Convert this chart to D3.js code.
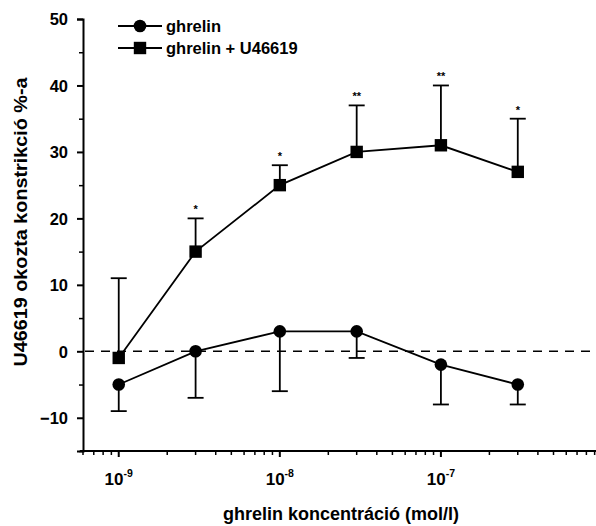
<!DOCTYPE html>
<html>
<head>
<meta charset="utf-8">
<script src="https://cdn.jsdelivr.net/npm/d3@7"></script>
<style>
  body { margin: 0; background: #fff; }
  svg { display: block; font-family: "Liberation Sans", Arial, sans-serif; font-weight: bold; }
</style>
</head>
<body>
<svg id="chart" width="596" height="526"></svg>
<script>
// concentrations (mol/l)
const concentrations = [1e-9, 3e-9, 1e-8, 3e-8, 1e-7, 3e-7];

// ghrelin alone: mean and lower error limit
const ghrelinMean = [-5, 0, 3, 3, -2, -5];
const ghrelinLow = [-9, -7, -6, -1, -8, -8];

// ghrelin + U46619: mean and upper error limit
const comboMean = [-1, 15, 25, 30, 31, 27];
const comboHigh = [11, 20, 28, 37, 40, 35];
const comboStars = ["", "*", "*", "**", "**", "*"];

const yMajor = [-10, 0, 10, 20, 30, 40, 50];
const yMinor = [-15, -5, 5, 15, 25, 35, 45];
const xMajorExp = [-9, -8, -7];

const svg = d3.select("#chart");

const x = d3.scaleLog().domain([6e-10, 1e-6]).range([83, 602]);
const y = d3.scaleLinear().domain([-15, 50]).range([451, 19]);

// y axis
const yAxis = svg.append("g").attr("transform", `translate(${x.range()[0]},0)`);
yAxis.call(d3.axisLeft(y).tickValues(yMajor).tickSize(6).tickPadding(9).tickFormat(d3.format("d")));
yAxis.select(".domain").attr("stroke-width", 2);
yAxis.selectAll(".tick line").attr("stroke-width", 2);
yAxis.selectAll(".tick text")
    .attr("font-size", 16.5).attr("font-family", "Liberation Sans, Arial").attr("font-weight", "bold")
    .attr("fill", "#000").attr("dy", "0.36em");
svg.append("g").attr("transform", `translate(${x.range()[0]},0)`)
    .call(d3.axisLeft(y).tickValues(yMinor).tickSize(4).tickFormat(""))
    .call((g) => g.select(".domain").remove())
    .selectAll(".tick line").attr("stroke-width", 1.5);

// x axis (log, minor ticks at 2..9 of each decade)
const xTicks = x.ticks().filter((v) => v >= x.domain()[0] && v <= x.domain()[1]);
const isMajor = (v) => Math.abs(Math.log10(v) - Math.round(Math.log10(v))) < 1e-6;
const xAxis = svg.append("g").attr("transform", `translate(0,${y.range()[0]})`);
xAxis.append("line").attr("x1", 80).attr("x2", 602).attr("stroke", "#000").attr("stroke-width", 2);
xAxis.selectAll("line.tick").data(xTicks).join("line")
    .attr("class", "tick")
    .attr("x1", (d) => x(d)).attr("x2", (d) => x(d))
    .attr("y1", 0).attr("y2", (d) => (isMajor(d) ? 6 : 4))
    .attr("stroke", "#000").attr("stroke-width", (d) => (isMajor(d) ? 2 : 1.5));
const xLabels = xAxis.selectAll("text.lab").data(xMajorExp).join("text")
    .attr("class", "lab")
    .attr("x", (d) => x(Math.pow(10, d)))
    .attr("y", 34)
    .attr("text-anchor", "middle")
    .attr("font-size", 17);
xLabels.append("tspan").text("10");
xLabels.append("tspan").attr("dy", -8).attr("font-size", 10.5).text((d) => d);

// zero reference line
svg.append("line")
    .attr("x1", x.range()[0] + 2).attr("x2", 596)
    .attr("y1", y(0)).attr("y2", y(0))
    .attr("stroke", "#000").attr("stroke-width", 1.6)
    .attr("stroke-dasharray", "9,7");

// axis titles
svg.append("text")
    .attr("transform", "translate(27,222) rotate(-90)")
    .attr("text-anchor", "middle")
    .attr("font-size", 18)
    .attr("textLength", 289)
    .attr("lengthAdjust", "spacingAndGlyphs")
    .text("U46619 okozta konstrikció %-a");
svg.append("text")
    .attr("x", 341).attr("y", 520)
    .attr("text-anchor", "middle")
    .attr("font-size", 18)
    .text("ghrelin koncentráció (mol/l)");

const line = d3.line().x((d) => x(d[0])).y((d) => y(d[1]));
const cap = 8;
const lw = 1.8;

// ghrelin series
const ghrelin = concentrations.map((c, i) => [c, ghrelinMean[i], ghrelinLow[i]]);
svg.append("path").datum(ghrelin).attr("d", line).attr("fill", "none").attr("stroke", "#000").attr("stroke-width", lw);
const gErr = svg.append("g").selectAll("g").data(ghrelin).join("g").attr("stroke", "#000").attr("stroke-width", lw);
gErr.append("line").attr("x1", (d) => x(d[0])).attr("x2", (d) => x(d[0])).attr("y1", (d) => y(d[1])).attr("y2", (d) => y(d[2]));
gErr.append("line").attr("x1", (d) => x(d[0]) - cap).attr("x2", (d) => x(d[0]) + cap).attr("y1", (d) => y(d[2])).attr("y2", (d) => y(d[2]));
svg.append("g").selectAll("circle").data(ghrelin).join("circle")
    .attr("cx", (d) => x(d[0])).attr("cy", (d) => y(d[1])).attr("r", 6.3).attr("fill", "#000");

// ghrelin + U46619 series
const combo = concentrations.map((c, i) => [c, comboMean[i], comboHigh[i], comboStars[i]]);
svg.append("path").datum(combo).attr("d", line).attr("fill", "none").attr("stroke", "#000").attr("stroke-width", lw);
const cErr = svg.append("g").selectAll("g").data(combo).join("g").attr("stroke", "#000").attr("stroke-width", lw);
cErr.append("line").attr("x1", (d) => x(d[0])).attr("x2", (d) => x(d[0])).attr("y1", (d) => y(d[1])).attr("y2", (d) => y(d[2]));
cErr.append("line").attr("x1", (d) => x(d[0]) - cap).attr("x2", (d) => x(d[0]) + cap).attr("y1", (d) => y(d[2])).attr("y2", (d) => y(d[2]));
svg.append("g").selectAll("rect").data(combo).join("rect")
    .attr("x", (d) => x(d[0]) - 6.2).attr("y", (d) => y(d[1]) - 6.2)
    .attr("width", 12.4).attr("height", 12.4).attr("fill", "#000");
svg.append("g").selectAll("text").data(combo).join("text")
    .attr("x", (d) => x(d[0])).attr("y", (d) => y(d[2]) - 5)
    .attr("text-anchor", "middle").attr("font-size", 11)
    .text((d) => d[3]);

// legend
const legend = svg.append("g");
const legendItems = [
    { label: "ghrelin", shape: "circle", yPos: 26 },
    { label: "ghrelin + U46619", shape: "square", yPos: 48 }
];
legendItems.forEach((item) => {
    legend.append("line").attr("x1", 118).attr("x2", 162).attr("y1", item.yPos).attr("y2", item.yPos)
        .attr("stroke", "#000").attr("stroke-width", lw);
    if (item.shape === "circle") {
        legend.append("circle").attr("cx", 140).attr("cy", item.yPos).attr("r", 6.3).attr("fill", "#000");
    } else {
        legend.append("rect").attr("x", 133.8).attr("y", item.yPos - 6.2).attr("width", 12.4).attr("height", 12.4).attr("fill", "#000");
    }
    legend.append("text").attr("x", 166).attr("y", item.yPos + 6).attr("font-size", 16.5).text(item.label);
});
</script>
</body>
</html>
